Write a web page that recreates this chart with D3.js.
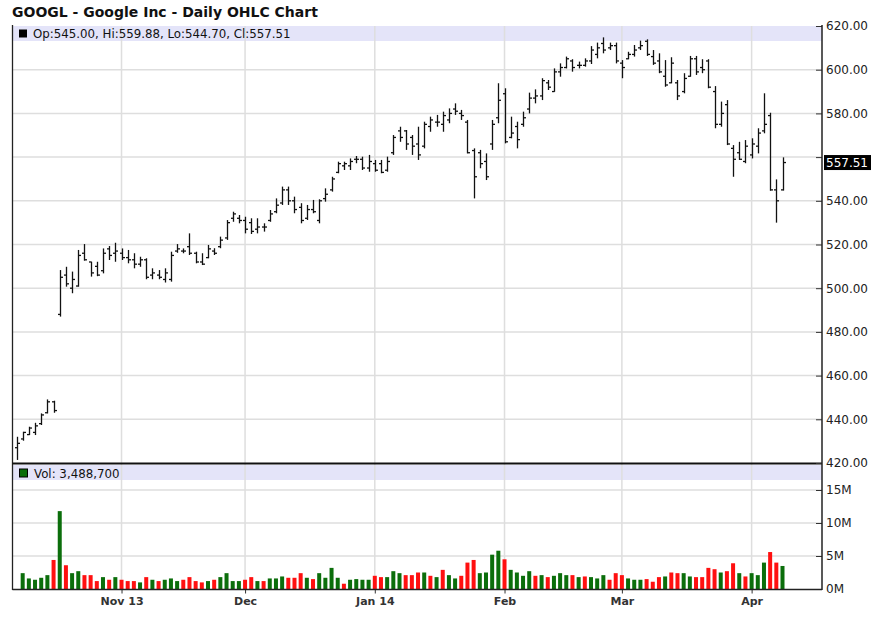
<!DOCTYPE html>
<html><head><meta charset="utf-8">
<script src="https://cdn.jsdelivr.net/npm/d3@7"></script>
<style>body{margin:0;background:#fff}svg{display:block}</style>
</head><body><svg id="c" width="875" height="640"></svg>
<script>
const titleText = "GOOGL - Google Inc - Daily OHLC Chart";
const openP  = [427,431,433,434,438,443,448,488,506,500,501,516,512,510,508,518,516,516,514,513,511,513,506,506,504,504,517,517,519,516,512,514,517,519,523,532,532,531,530,527,528,531,535,539,545,540,537,532,536,531,541,545,553,556,556,559,559,555,557,557,554,562,572,572,569,566,565,574,576,575,577,582,580,576,563,562,558,566,578,589,569,574,575,582,587,588,594,590,599,601,604,602,602,604,607,612,610,611,603,605,607,610,613,606,604,597,594,594,590,597,605,601,604,590,575,584,564,562,558,561,565,572,579,545,545.00];
const highP  = [432,434.3,436.6,438.4,442.7,449.1,448.5,508.3,509.8,507.6,517.5,520.2,512.1,512.1,518.2,519.3,520.8,518.2,517.5,516,514.4,513.7,509.1,508.3,509.1,516.7,520.2,518.2,525.1,516.7,516,519.8,518.3,523.6,531.2,535,533.5,532.7,532,532,529.7,535.8,541.1,546.5,546.5,541.9,538.9,538.1,540.4,540.7,545.7,551,557.9,557.9,559.4,560.5,560.2,561,558.7,558.7,560.2,570.1,573.9,572.4,570.1,573.9,576.2,578.5,579.3,580.8,582.3,584.6,581.6,577,564,563.3,561.7,577,593.8,591.5,578.5,576.2,580.8,589.5,591,596.1,595.3,600.6,602.9,606,604.8,603.7,605.2,610.8,612.4,614.8,612.4,612.4,604.4,608.2,611.3,613.3,613.9,609,607.5,604.4,605.7,595.3,598.4,606.3,606.3,604.8,604.8,592.5,585.4,586.1,565.5,567,567.8,568.6,573.2,589.2,580.3,549.8,559.88];
const lowP   = [421.4,430.2,432.8,432.8,437.4,442.7,443,487,500.7,497.7,500.7,512.6,505.3,505.5,506.8,512.9,512.1,512.9,511.4,509.1,509.8,504.1,504.1,504.1,502.6,503,516.2,516,515.2,511.4,510.6,513.7,515.2,518.3,522.1,530.4,529.7,525.1,524.8,525.1,525.9,530.4,534.3,538.1,538.1,534.3,529.7,531.2,534.3,529.7,539.6,544.2,552.6,554.1,554.1,557.2,554.1,553.3,553.3,552.6,553.3,561,567,563.3,561,558.7,564,571.6,573.9,571.6,575.5,579.3,577,561.7,541.1,554.9,549.5,563.3,575.5,566.3,568.6,564,573.9,580,584.6,586.1,590.7,589.9,596.8,600.6,599.1,600.6,601.4,602.6,605.2,607.5,609,602.9,596.1,604.8,606,609,606.3,602.2,598.4,592.2,593.8,586.1,589.2,596.8,597.6,598.4,591.5,573.2,573.9,565.5,551,558.7,557.2,559.4,561.7,570.9,544.6,530,544.70];
const closeP = [429,434,436,437,442,448,444,505,502,504,515,513,507,506,516,515,517,514,513,511,513,505,507,505,507,515,518,517,516,512,511,518,516,522,530,534,531,527,526,528,528,534,538,545,540,536,531,536,535,540,543,550,557,557,558,559,555,558,554,553,558,569,569,566,565,561,575,577,576,579,580,581,579,562,551,557,551,575,586,567,571,568,578,587,588,595,592,599,601,605,601,602,604,609,610,609,611,604,601,607,609,611,607,603,599,593,603,588,596,605,599,600,592,575,580,566,559,559,565,566,571,575,545,540,557.51];
// volume in millions (first bar's volume not visible)
const volM = [null,2.4,1.6,1.4,1.7,2.1,4.4,11.8,3.6,2.4,2.7,2.1,2.1,1.2,1.8,1.4,1.8,1.4,1.2,1.2,1.0,1.8,1.4,1.2,1.4,1.6,1.2,1.4,1.8,1.2,1.0,1.2,1.4,1.8,2.4,1.2,1.2,1.4,1.8,1.2,1.2,1.6,1.6,1.9,1.7,1.7,2.4,1.7,1.5,2.4,1.7,3.2,1.7,0.8,1.4,1.5,1.4,1.4,2.0,1.8,1.8,2.7,2.4,2.1,2.1,2.5,2.5,2.0,1.8,2.9,2.1,1.6,2.0,4.0,4.4,2.4,2.5,5.2,5.8,4.5,2.9,2.5,2.0,2.7,2.0,2.1,1.8,2.0,2.4,2.1,2.1,1.8,1.9,1.8,1.6,2.1,1.4,2.4,2.1,1.6,1.4,1.4,1.5,1.1,1.8,1.9,2.5,2.4,2.4,1.9,1.8,1.8,3.2,3.0,2.5,2.7,3.9,2.4,1.9,2.4,2.1,4.0,5.6,4.0,3.4887];
const volUp = [1,1,1,1,1,1,0,1,0,1,1,0,0,0,1,0,1,0,0,0,1,0,1,0,1,1,1,0,0,0,0,1,0,1,1,1,1,0,0,1,0,1,1,1,0,0,0,1,0,1,1,1,1,0,1,1,1,1,0,0,1,1,1,0,0,0,1,0,1,0,1,1,0,0,0,1,1,1,1,0,1,1,1,1,0,1,0,1,1,1,0,1,0,1,1,1,0,0,0,1,1,1,0,0,0,1,0,0,1,1,0,0,0,0,1,0,0,1,0,1,1,1,0,0,1];
const tickLabels = ["Nov 13","Dec","Jan 14","Feb","Mar","Apr"];
const tickIndex  = [17,37,58,79,98,119];
const priceTicks = [420,440,460,480,500,520,540,560,580,600,620];
const volTicks   = [0,5,10,15];

const FONT = "'DejaVu Sans', Verdana, sans-serif";
const svg = d3.select("#c");
const L = 12.5, R = 822;
const n = closeP.length;
const x = d3.scaleLinear().domain([0, n-1]).range([16.5, 782.5]);
const yP = d3.scaleLinear().domain([420, 620]).range([463, 26]);
const yV = d3.scaleLinear().domain([0, 15]).range([589, 490]);

svg.append("rect").attr("width",875).attr("height",640).attr("fill","#fff");

// title
svg.append("text").attr("x",12).attr("y",17).attr("font-family",FONT)
  .attr("font-weight","bold").attr("font-size",14).attr("fill","#111").text(titleText);

// legend bands
svg.append("rect").attr("x",L).attr("y",26).attr("width",R-L).attr("height",15).attr("fill","#e4e4f9");
svg.append("rect").attr("x",L).attr("y",465).attr("width",R-L).attr("height",15).attr("fill","#e4e4f9");

const grid = svg.append("g").attr("stroke","#dedede").attr("stroke-width",1.5);
priceTicks.filter(p => p > 420 && p < 620).forEach(p => {
  grid.append("line").attr("x1",L).attr("x2",R).attr("y1",yP(p)).attr("y2",yP(p));
});
volTicks.filter(v => v > 0).forEach(v => {
  grid.append("line").attr("x1",L).attr("x2",R).attr("y1",yV(v)).attr("y2",yV(v));
});
tickIndex.forEach(i => {
  grid.append("line").attr("x1",x(i)).attr("x2",x(i)).attr("y1",26).attr("y2",589);
});

// volume bars
const vb = svg.append("g");
volM.forEach((v,i) => {
  if (v == null) return;
  vb.append("rect").attr("x",x(i)-2).attr("width",4)
    .attr("y",yV(v)).attr("height",yV(0)-yV(v))
    .attr("fill", volUp[i] ? "#0b6e0b" : "#ff1010");
});

// OHLC bars
const ob = svg.append("g").attr("stroke","#111").attr("stroke-width",1.3);
closeP.forEach((c,i) => {
  const cx = Math.round(x(i)) + 0.5;
  ob.append("line").attr("x1",cx).attr("x2",cx).attr("y1",yP(highP[i])).attr("y2",yP(lowP[i]));
  ob.append("line").attr("x1",cx-2.5).attr("x2",cx).attr("y1",yP(openP[i])).attr("y2",yP(openP[i]));
  ob.append("line").attr("x1",cx).attr("x2",cx+2.5).attr("y1",yP(c)).attr("y2",yP(c));
});

// frame
svg.append("line").attr("x1",L).attr("x2",L).attr("y1",25).attr("y2",590).attr("stroke","#222").attr("stroke-width",1.3);
svg.append("line").attr("x1",L).attr("x2",R).attr("y1",463.5).attr("y2",463.5).attr("stroke","#111").attr("stroke-width",2.2);

// right price axis
const lastC = closeP[n-1];
const ap = svg.append("g").attr("transform",`translate(${R},0)`)
  .call(d3.axisRight(yP).tickValues(priceTicks).tickFormat(d3.format(".2f")).tickSizeInner(-6).tickSizeOuter(0).tickPadding(4));
ap.select(".domain").remove();
ap.selectAll("text").attr("font-family",FONT).attr("font-size",12).attr("fill","#222")
  .style("display", d => Math.abs(yP(d)-yP(lastC)) < 12 ? "none" : null);
ap.selectAll("line").attr("stroke","#333");

// right volume axis
const av = svg.append("g").attr("transform",`translate(${R},0)`)
  .call(d3.axisRight(yV).tickValues(volTicks).tickFormat(d => d + "M").tickSizeInner(-6).tickSizeOuter(0).tickPadding(4));
av.select(".domain").remove();
av.selectAll("text").attr("font-family",FONT).attr("font-size",12).attr("fill","#222");
av.selectAll("line").attr("stroke","#333");

svg.append("line").attr("x1",R).attr("x2",R).attr("y1",25).attr("y2",590).attr("stroke","#222").attr("stroke-width",1.5);

// bottom axis
const ax = svg.append("g").attr("transform","translate(0,589.5)")
  .call(d3.axisBottom(x).tickValues(tickIndex).tickFormat((d,i) => tickLabels[i]).tickSizeInner(4).tickSizeOuter(0).tickPadding(4));
ax.select(".domain").remove();
ax.selectAll("text").attr("font-family",FONT).attr("font-size",11).attr("font-weight","bold").attr("fill","#333");
ax.selectAll("line").attr("stroke","#333");
svg.append("line").attr("x1",L).attr("x2",R).attr("y1",589.5).attr("y2",589.5).attr("stroke","#222").attr("stroke-width",1.5);

// last price tag
const yl = yP(lastC);
svg.append("rect").attr("x",R+2).attr("y",yl-7.5).attr("width",47).attr("height",15).attr("fill","#000");
svg.append("text").attr("x",R+4).attr("y",yl).attr("dy","0.35em").attr("font-family",FONT)
  .attr("font-size",12).attr("fill","#fff").text(lastC.toFixed(2));

// legends
const f2 = d3.format(".2f");
svg.append("rect").attr("x",19).attr("y",29.5).attr("width",8).attr("height",8).attr("fill","#000");
svg.append("text").attr("x",33).attr("y",38).attr("font-family",FONT).attr("font-size",11.8).attr("fill","#111")
  .text(`Op:${f2(openP[n-1])}, Hi:${f2(highP[n-1])}, Lo:${f2(lowP[n-1])}, Cl:${f2(lastC)}`);
svg.append("rect").attr("x",19.5).attr("y",469).attr("width",8).attr("height",8).attr("fill","#0b6e0b").attr("stroke","#000").attr("stroke-width",1);
svg.append("text").attr("x",34).attr("y",477.5).attr("font-family",FONT).attr("font-size",11.8).attr("fill","#111")
  .text(`Vol: ${d3.format(",")(Math.round(volM[n-1]*1e6))}`);
</script></body></html>
